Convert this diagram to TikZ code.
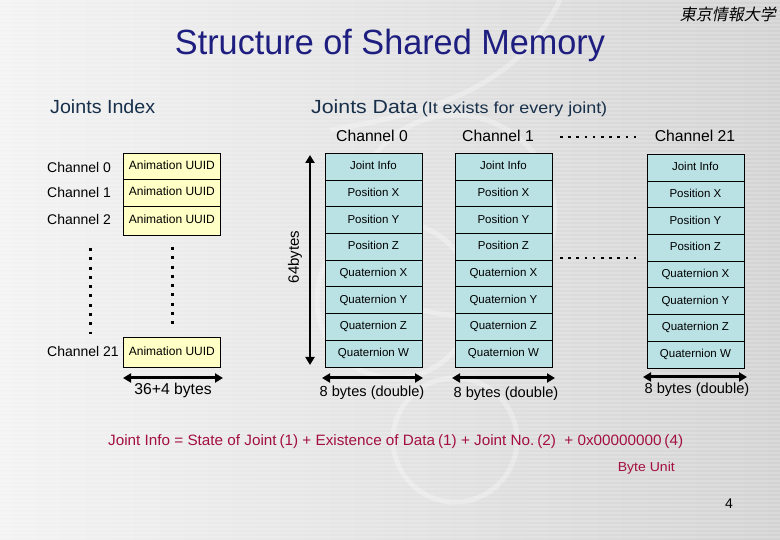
\documentclass[tikz,border=0pt]{standalone}
\usepackage{fontspec}
\usepackage{graphicx}
\setmainfont{Liberation Sans}
\newfontfamily\jpfont[FakeSlant=0.2]{Noto Sans CJK JP}
\newfontfamily\condfont[FakeStretch=0.88]{Liberation Sans}
\usetikzlibrary{arrows.meta}
\definecolor{navy}{HTML}{1E1E80}
\definecolor{darkhead}{HTML}{18304A}
\definecolor{formred}{HTML}{A3103F}
\definecolor{ybox}{HTML}{FFFFC6}
\definecolor{cbox}{HTML}{BAE2E5}
\definecolor{bgl}{HTML}{F3F3F3}
\definecolor{bgr}{HTML}{D3D3D3}
\newcommand\setsz[1]{\fontsize{#1}{#1}\selectfont}
\begin{document}
\begin{tikzpicture}[x=1pt,y=-1pt,
  jbox/.style={draw=black,line width=0.8pt,fill=cbox,minimum width=97pt,minimum height=26.7pt,
    inner sep=0pt,font=\setsz{11.5},text height=8.3pt,text depth=2.4pt},
  ubox/.style={draw=black,line width=0.8pt,fill=ybox,minimum width=97pt,
    inner sep=0pt,font=\setsz{12},text height=8.6pt,text depth=2.4pt},
  lab/.style={inner sep=0pt,font=\setsz{14}},
  dimarrow/.style={line width=3pt,{Triangle[length=8pt,width=9pt]}-{Triangle[length=8pt,width=9pt]}},
  vdots/.style={line width=3pt,dash pattern=on 3pt off 6.3pt},
  hdots/.style={line width=2.6pt,dash pattern=on 2.6pt off 5.6pt}]
% background
\useasboundingbox (0,0) rectangle (780,540);
\fill[left color=bgl,right color=bgr] (0,0) rectangle (780,540);
\foreach \k in {0,...,134}{
  \draw[white,opacity=0.18,line width=1.2pt] (0,\k*4+1) -- (780,\k*4+1);
}
\begin{scope}[white,opacity=0.3,line width=5pt]
  \draw (455,215) circle (100);
  \draw (395,300) circle (78);
  \draw (455,440) circle (62);
  \draw (560,0) .. controls (520,80) and (450,110) .. (330,130);
\end{scope}
% headers
\node[anchor=base east,inner sep=0pt,font=\jpfont\setsz{16}] (univ) at (776,21) {東京情報大学};
\node[anchor=base,inner sep=0pt,text=navy] (title) at (390,55)
  {\resizebox{430pt}{\height}{\condfont\setsz{35}Structure of Shared Memory}};
\node[anchor=base west,inner sep=0pt,text=darkhead] (jindex) at (50,114)
  {\resizebox{105pt}{\height}{\condfont\setsz{19}Joints Index}};
\node[anchor=base west,inner sep=0pt,text=darkhead] (jdata) at (311,114)
  {\resizebox{296pt}{\height}{\condfont\setsz{19}Joints Data\,{\setsz{16}(It exists for every joint)}}};
% left panel
\node[lab,anchor=base west] (lc0) at (47,173) {Channel 0};
\node[lab,anchor=base west] (lc1) at (47,198) {Channel 1};
\node[lab,anchor=base west] (lc2) at (47,225) {Channel 2};
\node[lab,anchor=base west] (lc21) at (47,357) {Channel 21};
\node[ubox,anchor=north west,minimum height=26.3pt] (u0) at (123,153) {Animation UUID};
\node[ubox,anchor=north west,minimum height=26.3pt] (u1) at (123,179.3) {Animation UUID};
\node[ubox,anchor=north west,minimum height=29.6pt] (u2) at (123,205.6) {Animation UUID};
\node[ubox,anchor=north west,minimum height=29.2pt] (u21) at (123,337.5) {Animation UUID};
\coordinate (d1a) at (90,248); \coordinate (d1b) at (90,334);
\coordinate (d2a) at (172,247); \coordinate (d2b) at (172,330);
\draw[vdots] (d1a) -- (d1b);
\draw[vdots] (d2a) -- (d2b);
\coordinate (ua) at (123,378); \coordinate (ub) at (223,378);
\draw[dimarrow] (ua) -- (ub);
\node[lab,anchor=base,font=\setsz{15.7}] (ulab) at (173,395) {36+4 bytes};
% 64 bytes
\coordinate (va) at (310,155); \coordinate (vb) at (310,365);
\draw[dimarrow,line width=2.6pt] (va) -- (vb);
\node[lab,font=\setsz{15},rotate=90] (vlab) at (295,257) {64bytes};
% right columns
\foreach \cx/\cy/\cn in {324.5/153/a, 454.5/153/b, 646.5/154/c}{
  \foreach \lbl [count=\i from 0] in {Joint Info, Position X, Position Y, Position Z,
      Quaternion X, Quaternion Y, Quaternion Z, Quaternion W}{
    \node[jbox,anchor=north west] (\cn\i) at (\cx,\cy+\i*26.7) {\lbl};
  }
}
\node[lab,anchor=base,font=\setsz{15.7}] (ch0) at (372,142) {Channel 0};
\node[lab,anchor=base,font=\setsz{15.7}] (ch1) at (498,142) {Channel 1};
\node[lab,anchor=base,font=\setsz{15.7}] (ch21) at (695,142) {Channel 21};
\coordinate (h1a) at (560,137); \coordinate (h1b) at (636,137);
\coordinate (h2a) at (560,258); \coordinate (h2b) at (636,258);
\draw[hdots] (h1a) -- (h1b);
\draw[hdots] (h2a) -- (h2b);
\coordinate (aa1) at (322,378); \coordinate (aa2) at (423,378);
\coordinate (ab1) at (452,378); \coordinate (ab2) at (555,378);
\coordinate (ac1) at (643,377); \coordinate (ac2) at (747,377);
\draw[dimarrow] (aa1) -- (aa2);
\draw[dimarrow] (ab1) -- (ab2);
\draw[dimarrow] (ac1) -- (ac2);
\node[lab,anchor=base,font=\setsz{14.6}] (la) at (372,396) {8 bytes (double)};
\node[lab,anchor=base,font=\setsz{14.6}] (lb) at (506,398) {8 bytes (double)};
\node[lab,anchor=base,font=\setsz{14.6}] (lcc) at (697,394) {8 bytes (double)};
% formula
\node[anchor=base west,inner sep=0pt,text=formred] (formula) at (108,445)
  {\resizebox{575pt}{\height}{\condfont\setsz{15}Joint Info = State of Joint\,(1) + Existence of Data\,(1) + Joint No.\,(2)\ \ + 0x00000000\,(4)}};
\node[anchor=base east,inner sep=0pt,text=formred] (unit) at (675,471)
  {\resizebox{57pt}{\height}{\condfont\setsz{13}Byte Unit}};
\node[lab,anchor=base] (pnum) at (729,508) {4};
\end{tikzpicture}
\end{document}
